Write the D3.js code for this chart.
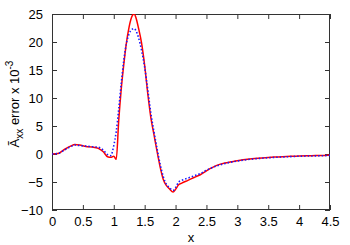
<!DOCTYPE html>
<html>
<head>
<meta charset="utf-8">
<script src="https://cdn.jsdelivr.net/npm/d3@7"></script>
<style>
  body { margin: 0; background: #fff; }
  text { font-family: "Liberation Sans", Arial, sans-serif; font-size: 13px; fill: #000; }
</style>
</head>
<body>
<svg id="chart" width="350" height="245"></svg>
<script>
// sample positions along x
var xs = [0, 0.1, 0.2, 0.3, 0.37, 0.45, 0.55, 0.65, 0.75, 0.83, 0.9, 0.95, 1.0, 1.04, 1.08, 1.12,
  1.16, 1.2, 1.25, 1.3, 1.33, 1.36, 1.4, 1.45, 1.5, 1.55, 1.6, 1.65, 1.7, 1.75, 1.8, 1.85, 1.9,
  1.96, 2.0, 2.05, 2.1, 2.2, 2.3, 2.4, 2.5, 2.6, 2.7, 2.8, 2.9, 3.0, 3.2, 3.4, 3.6, 3.8, 4.0,
  4.2, 4.4, 4.5];
// solid red series
var redVals = [0, 0.1, 0.8, 1.4, 1.7, 1.6, 1.35, 1.25, 1.0, 0.4, -0.5, -0.6, -0.4, -0.95, 6, 11.5,
  15.8, 19.5, 22.8, 24.7, 25, 24.3, 22.5, 19.8, 15.8, 10.8, 6.5, 3.5, 0.5, -2.3, -4.5, -5.6, -6.2,
  -6.8, -6.3, -5.5, -5.2, -4.7, -4.2, -3.7, -3.0, -2.4, -1.9, -1.6, -1.4, -1.2, -0.9, -0.7, -0.55,
  -0.45, -0.35, -0.3, -0.25, -0.2];
// dotted blue series
var blueVals = [0, 0.1, 0.7, 1.3, 1.6, 1.5, 1.4, 1.3, 1.2, 0.7, -0.1, -0.3, 1.5, 4, 8, 12.5,
  16.5, 19.5, 21.5, 22.3, 22.4, 22, 20.8, 18.5, 15.5, 11.5, 7.3, 4.0, 1.0, -1.8, -4.0, -5.4, -6.0,
  -6.5, -6.0, -5.0, -4.7, -4.3, -3.9, -3.5, -2.9, -2.4, -2.0, -1.7, -1.45, -1.25, -0.95, -0.75, -0.6,
  -0.5, -0.4, -0.35, -0.3, -0.25];
var xTicks = [0, 0.5, 1, 1.5, 2, 2.5, 3, 3.5, 4, 4.5];
var yTicks = [-10, -5, 0, 5, 10, 15, 20, 25];

var plotL = 52, plotR = 330, plotT = 14, plotB = 210;
var svg = d3.select('#chart');

var x = d3.scaleLinear().domain([0, 4.5]).range([plotL, plotR]);
var y = d3.scaleLinear().domain([-10, 25]).range([plotB, plotT]);

svg.append('defs').append('clipPath').attr('id', 'clip')
  .append('rect').attr('x', plotL).attr('y', plotT).attr('width', plotR - plotL).attr('height', plotB - plotT);

// axes: labels on bottom/left, ticks mirrored on all four sides (inward)
var tickLen = 5;
var gx = svg.append('g').attr('transform', `translate(0,${plotB})`)
  .call(d3.axisBottom(x).tickValues(xTicks).tickSize(-tickLen).tickPadding(7)
    .tickFormat(function(d) { return d; }));
var gy = svg.append('g').attr('transform', `translate(${plotL},0)`)
  .call(d3.axisLeft(y).tickValues(yTicks).tickSize(-tickLen).tickPadding(9));
var gt = svg.append('g').attr('transform', `translate(0,${plotT})`)
  .call(d3.axisTop(x).tickValues(xTicks).tickSize(-tickLen).tickFormat(''));
var gr = svg.append('g').attr('transform', `translate(${plotR},0)`)
  .call(d3.axisRight(y).tickValues(yTicks).tickSize(-tickLen).tickFormat(''));

[gx, gy, gt, gr].forEach(function(g) {
  g.select('.domain').remove();
  g.selectAll('line').attr('stroke', '#333').attr('stroke-width', 1);
  g.selectAll('text').attr('font-size', 12.5).attr('font-family', '"Liberation Sans", Arial, sans-serif');
});

svg.append('rect').attr('x', plotL + 0.5).attr('y', plotT + 0.5)
  .attr('width', plotR - plotL - 1).attr('height', plotB - plotT - 1)
  .attr('fill', 'none').attr('stroke', '#333').attr('stroke-width', 1);

var line = d3.line().curve(d3.curveMonotoneX)
  .x(function(d, i) { return x(xs[i]); })
  .y(function(d) { return y(d); });

var plot = svg.append('g').attr('clip-path', 'url(#clip)');
plot.append('path').datum(redVals).attr('d', line)
  .attr('fill', 'none').attr('stroke', '#ff0000').attr('stroke-width', 1.5);
plot.append('path').datum(blueVals).attr('d', line)
  .attr('fill', 'none').attr('stroke', '#1a1aff').attr('stroke-width', 1.6)
  .attr('stroke-dasharray', '1.5,2');

// axis titles
svg.append('text').attr('x', 191).attr('y', 242).attr('text-anchor', 'middle').text('x');

var yl = svg.append('text')
  .attr('transform', 'translate(19,104) rotate(-90)')
  .attr('text-anchor', 'middle');
yl.append('tspan').text('\u00C3');
yl.append('tspan').attr('dy', 4).attr('font-size', 10).text('xx');
yl.append('tspan').attr('dy', -4).text(' error x 10');
yl.append('tspan').attr('dy', -6).attr('font-size', 10).text('-3');
</script>
</body>
</html>
